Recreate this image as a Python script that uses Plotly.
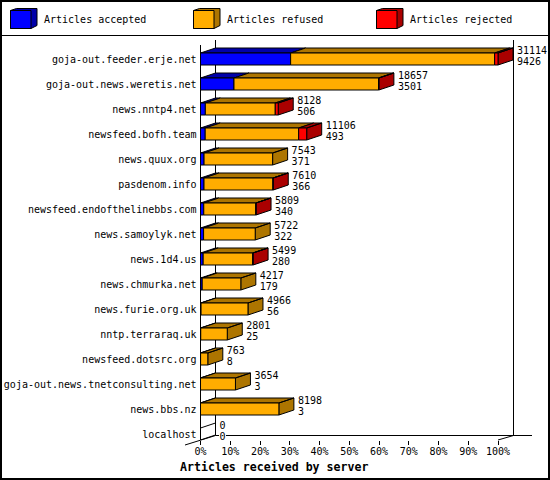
import plotly.graph_objects as go

servers = ["goja-out.feeder.erje.net", "goja-out.news.weretis.net", "news.nntp4.net",
           "newsfeed.bofh.team", "news.quux.org", "pasdenom.info",
           "newsfeed.endofthelinebbs.com", "news.samoylyk.net", "news.1d4.us",
           "news.chmurka.net", "news.furie.org.uk", "nntp.terraraq.uk",
           "newsfeed.dotsrc.org", "goja-out.news.tnetconsulting.net", "news.bbs.nz",
           "localhost"]
totals = [31114, 18657, 8128, 11106, 7543, 7610, 5809, 5722, 5499, 4217, 4966, 2801, 763, 3654, 8198, 0]
accepted = [9426, 3501, 506, 493, 371, 366, 340, 322, 280, 179, 56, 25, 8, 3, 3, 0]
refused = [21338, 15116, 7312, 9773, 7172, 7214, 5449, 5400, 5179, 4038, 4910, 2776, 755, 3651, 8195, 0]
rejected = [350, 40, 310, 840, 0, 30, 20, 0, 40, 0, 0, 0, 0, 0, 0, 0]
percent_ticks = [0, 10, 20, 30, 40, 50, 60, 70, 80, 90, 100]

series_names = ["Articles accepted", "Articles refused", "Articles rejected"]
front_colors = ["#0000FF", "#FFAD00", "#FF0000"]
dark_colors = ["#0000AA", "#AD7500", "#AA0000"]

W, H = 550, 480
PX_PER_PCT = 2.975
PX_PER_ROW = 25
LEFT, RIGHT, TOP, BOTTOM = 200.5, 532, 45, 440
DX = 15 / PX_PER_PCT
DY = 5 / PX_PER_ROW
HALF = 6 / PX_PER_ROW
FONT = "DejaVu Sans Mono"

series_values = [accepted, refused, rejected]
biggest = max(totals)

fig = go.Figure()


def add_poly(xs, ys, color):
    fig.add_trace(go.Scatter(x=xs, y=ys, mode="lines", fill="toself", fillcolor=color,
                             line=dict(color="black", width=1), hoverinfo="skip"))


for j, values in enumerate(series_values):
    fx, fy, dx_, dy_ = [], [], [], []
    for i in range(len(servers)):
        start = sum(series_values[k][i] for k in range(j)) / biggest * 100
        end = start + values[i] / biggest * 100
        if values[i] == 0:
            continue
        up, down = i - HALF, i + HALF
        fx += [start, end, end, start, start, None]
        fy += [up, up, down, down, up, None]
        # top face
        dx_ += [start, end, end + DX, start + DX, start, None]
        dy_ += [up, up, up - DY, up - DY, up, None]
        # side face takes the colour of the last segment of the bar
        if all(series_values[k][i] == 0 for k in range(j + 1, 3)):
            dx_ += [end, end + DX, end + DX, end, end, None]
            dy_ += [up, up - DY, down - DY, down, up, None]
    add_poly(dx_, dy_, dark_colors[j])
    add_poly(fx, fy, front_colors[j])

# empty bars only leave their outline
for i in range(len(servers)):
    if totals[i] == 0:
        fig.add_trace(go.Scatter(x=[DX, 0, 0, DX], y=[i - HALF - DY, i - HALF, i + HALF, i + HALF - DY],
                                 mode="lines", line=dict(color="black", width=1), hoverinfo="skip"))

# value labels next to the back corner of each bar
label_x = [t / biggest * 100 + DX + 4 / PX_PER_PCT for t in totals]
fig.add_trace(go.Scatter(x=label_x, y=[i - 8 / PX_PER_ROW for i in range(len(servers))], mode="text",
                         text=[str(t) for t in totals], textposition="middle right", cliponaxis=False,
                         textfont=dict(family=FONT, size=10, color="black"), hoverinfo="skip"))
fig.add_trace(go.Scatter(x=label_x, y=[i + 3 / PX_PER_ROW for i in range(len(servers))], mode="text",
                         text=[str(a) for a in accepted], textposition="middle right", cliponaxis=False,
                         textfont=dict(family=FONT, size=10, color="black"), hoverinfo="skip"))


def px(x):
    return x / W


def py(y):
    return 1 - y / H


def line(x0, y0, x1, y1, width=1):
    return dict(type="line", xref="paper", yref="paper", x0=px(x0), y0=py(y0), x1=px(x1), y1=py(y1),
                line=dict(color="black", width=width), layer="below")


shapes = [
    dict(type="rect", xref="paper", yref="paper", x0=px(1), y0=py(1), x1=px(549), y1=py(479),
         line=dict(color="black", width=2), layer="below"),
    line(0, 35.5, 550, 35.5),
    line(215.5, 40, 215.5, 435.5),
    line(513.5, 40, 513.5, 435.5),
    line(215.5, 435.5, 219, 435.5),
    line(226, 435.5, RIGHT, 435.5),
    line(185, 445, 215.5, 435.5),
    line(498, 440, 513.5, 435.5),
]

annotations = [dict(x=px(274), y=py(467), xref="paper", yref="paper", text="Articles received by server",
                    showarrow=False, yanchor="middle",
                    font=dict(family=FONT, size=11.6, color="black", weight="bold"))]

legend_x = [10.5, 193.5, 376.5]
for x0, name, front, dark in zip(legend_x, series_names, front_colors, dark_colors):
    x1 = x0 + 20.5
    x2 = x1 + 6
    shapes.append(dict(type="path", xref="paper", yref="paper", fillcolor=dark, line=dict(color="black", width=1),
                       path=f"M{px(x0)},{py(10.5)} L{px(x0 + 6)},{py(8.5)} L{px(x2)},{py(8.5)} L{px(x2)},{py(25.5)} "
                            f"L{px(x1)},{py(28.5)} L{px(x0)},{py(28.5)} Z"))
    shapes.append(dict(type="rect", xref="paper", yref="paper", x0=px(x0), y0=py(10.5), x1=px(x1), y1=py(28.5),
                       fillcolor=front, line=dict(color="black", width=1)))
    annotations.append(dict(x=px(x2 + 5), y=py(20), xref="paper", yref="paper", text=name, showarrow=False,
                            xanchor="left", yanchor="middle", font=dict(family=FONT, size=10, color="black")))

fig.update_layout(
    width=W, height=H, autosize=False, showlegend=False,
    margin=dict(l=0, r=0, t=0, b=0, pad=0),
    paper_bgcolor="white", plot_bgcolor="white",
    shapes=shapes, annotations=annotations,
    xaxis=dict(domain=[px(LEFT), px(RIGHT)], range=[0, (RIGHT - LEFT) / PX_PER_PCT], automargin=False,
               tickmode="array", tickvals=percent_ticks, ticktext=[f"{p}%" for p in percent_ticks],
               ticks="outside", ticklen=4, tickcolor="black", tickwidth=1,
               showgrid=False, zeroline=False, showline=False, ticklabelstandoff=-2,
               tickfont=dict(family=FONT, size=10, color="black")),
    yaxis=dict(domain=[py(BOTTOM), py(TOP)], automargin=False,
               range=[(BOTTOM - 59) / PX_PER_ROW, (TOP - 59) / PX_PER_ROW],
               tickmode="array", tickvals=list(range(len(servers))), ticktext=servers,
               ticks="", showgrid=False, zeroline=False,
               showline=True, linecolor="black", linewidth=1, layer="above traces",
               ticklabelstandoff=1,
               tickfont=dict(family=FONT, size=10, color="black")),
)

# page margin would push the chart out of the window
fig.write_html("out.html", config=dict(displayModeBar=False), post_script="document.body.style.margin='0';")
